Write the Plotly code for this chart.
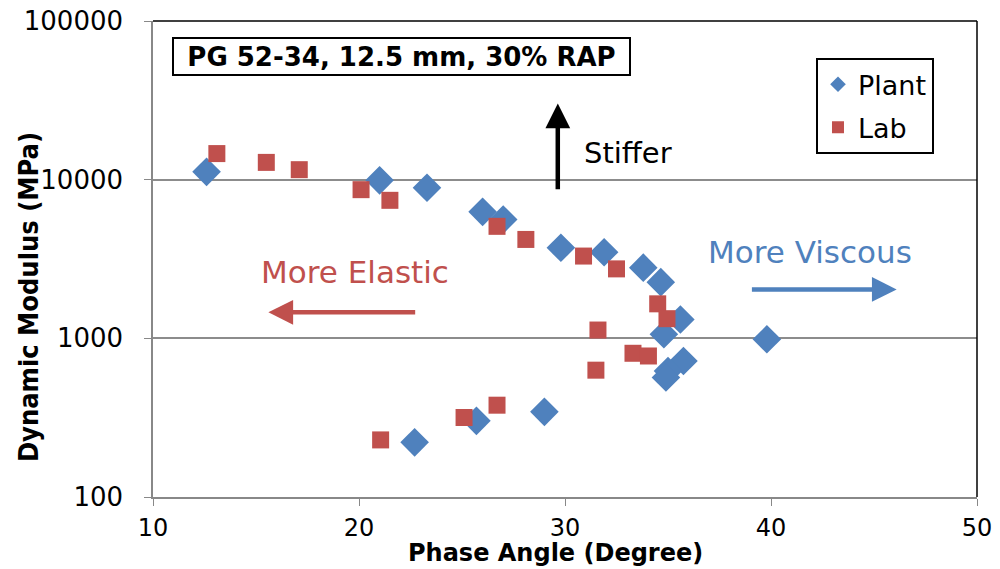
import plotly.graph_objects as go

plant_phase = [12.6, 21.0, 23.3, 26.0, 27.0, 29.8, 31.9, 33.8, 34.65, 35.6, 34.8, 39.8, 35.75, 35.0, 34.9, 29.0, 25.7, 22.7]
plant_modulus = [11200, 9900, 8900, 6270, 5600, 3720, 3490, 2790, 2260, 1315, 1060, 986, 720, 622, 566, 344, 302, 221]

lab_phase = [13.1, 15.5, 17.1, 20.1, 21.5, 26.7, 28.1, 30.9, 32.5, 34.5, 34.95, 31.6, 33.3, 34.05, 31.5, 26.7, 25.1, 21.05]
lab_modulus = [14600, 12850, 11560, 8650, 7410, 5080, 4200, 3300, 2740, 1650, 1330, 1128, 805, 774, 630, 379, 317, 229]

x_ticks = [10, 20, 30, 40, 50]
y_ticks = [100, 1000, 10000, 100000]

BLUE = "#4F81BD"
RED = "#C0504D"
FONT = "DejaVu Sans, Liberation Sans, Arial, sans-serif"
COND = "DejaVu Sans Condensed, DejaVu Sans, Liberation Sans, sans-serif"

fig = go.Figure()
fig.add_trace(go.Scatter(x=plant_phase, y=plant_modulus, mode="markers", name="Plant", legendgroup="p",
                         marker=dict(symbol="diamond", size=22, color=BLUE)))
fig.add_trace(go.Scatter(x=lab_phase, y=lab_modulus, mode="markers", name="Lab", legendgroup="l",
                         marker=dict(symbol="square", size=17, color=RED)))

fig.update_xaxes(range=[10, 50], tickvals=x_ticks, ticks="outside", ticklen=7, tickcolor="#888888",
                 showline=True, linecolor="#888888", linewidth=1.5, showgrid=False, zeroline=False,
                 ticklabelstandoff=1,
                 tickfont=dict(family=FONT, size=24, color="black"))
fig.update_yaxes(type="log", range=[2, 5], tickvals=y_ticks, ticktext=[str(v) for v in y_ticks],
                 ticks="outside", ticklen=7, tickcolor="#888888", ticklabelstandoff=16,
                 showline=True, linecolor="#888888", linewidth=1.5, showgrid=True, gridcolor="#8c8c8c", gridwidth=1.5,
                 zeroline=False, tickfont=dict(family=FONT, size=26, color="black"))

# axis titles
fig.add_annotation(xref="paper", yref="paper", x=0.489, y=-0.1185, xanchor="center", yanchor="middle",
                   text="<b>Phase Angle (Degree)</b>", showarrow=False,
                   font=dict(family=FONT, size=24, color="black"))
fig.add_annotation(xref="paper", yref="paper", x=-0.1517, y=0.42, xanchor="center", yanchor="middle",
                   text="<b>Dynamic Modulus (MPa)</b>", showarrow=False, textangle=-90,
                   font=dict(family=COND, size=27, color="black"))

# outer border of plot area (top/right)
fig.add_shape(type="line", xref="paper", yref="paper", x0=0, x1=1, y0=1, y1=1, line=dict(color="black", width=1.5))
fig.add_shape(type="line", xref="paper", yref="paper", x0=1, x1=1, y0=0, y1=1, line=dict(color="black", width=1.5))

# title box
fig.add_annotation(xref="paper", yref="paper", x=0.023, y=0.966, xanchor="left", yanchor="top",
                   text="<b>PG 52-34, 12.5 mm, 30% RAP</b>", showarrow=False,
                   font=dict(family=FONT, size=26, color="black"),
                   width=453, height=33,
                   bordercolor="black", borderwidth=2, borderpad=1, bgcolor="white")

# arrows
fig.add_annotation(x=29.65, y=4.48, ax=29.65, ay=3.93, xref="x", yref="y", axref="x", ayref="y",
                   showarrow=True, arrowhead=2, arrowsize=1.1, arrowwidth=4.5, arrowcolor="black", text="")
fig.add_annotation(x=15.6, y=3.164, ax=22.8, ay=3.164, xref="x", yref="y", axref="x", ayref="y",
                   showarrow=True, arrowhead=2, arrowsize=1.1, arrowwidth=4.5, arrowcolor=RED, text="")
fig.add_annotation(x=46.1, y=3.308, ax=39.0, ay=3.308, xref="x", yref="y", axref="x", ayref="y",
                   showarrow=True, arrowhead=2, arrowsize=1.1, arrowwidth=4.5, arrowcolor=BLUE, text="")

# labels
fig.add_annotation(x=33.06, y=4.17, xref="x", yref="y", text="Stiffer", showarrow=False,
                   font=dict(family=FONT, size=29, color="black"))
fig.add_annotation(x=19.8, y=3.415, xref="x", yref="y", text="More Elastic", showarrow=False,
                   font=dict(family=FONT, size=31, color=RED))
fig.add_annotation(x=41.9, y=3.547, xref="x", yref="y", text="More Viscous", showarrow=False,
                   font=dict(family=FONT, size=31, color=BLUE))

fig.update_layout(
    width=1000, height=569,
    margin=dict(l=153, r=23, t=21, b=72, autoexpand=False),
    paper_bgcolor="white", plot_bgcolor="white",
    showlegend=True,
    legend=dict(x=0.8046, y=0.922, xanchor="left", yanchor="top",
                bordercolor="black", borderwidth=2, bgcolor="white",
                font=dict(family=FONT, size=27, color="black"), itemsizing="constant",
                tracegroupgap=5),
)

fig.write_html("out.html", config={"displayModeBar": False},
               post_script="document.body.style.margin='0px';")
